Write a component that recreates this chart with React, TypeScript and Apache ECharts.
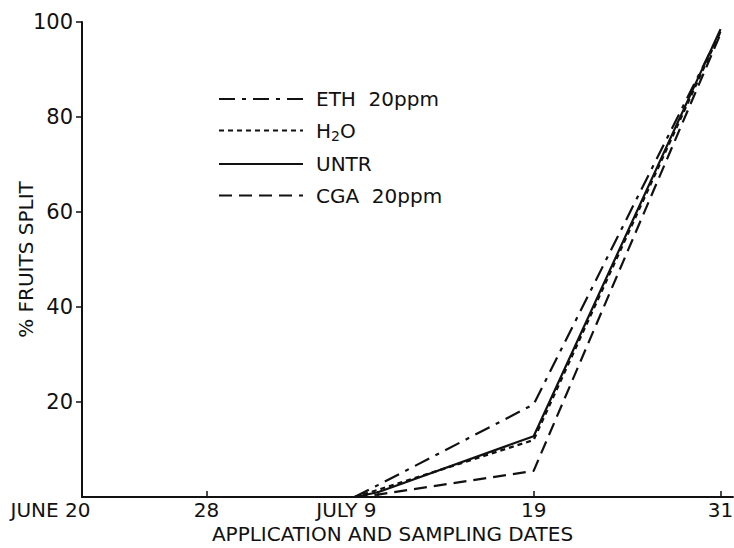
import React, { useEffect, useRef } from "react";
import * as echarts from "echarts";

// Days counted from June 20
const tickDays = [0, 8, 19, 29, 41];
const tickMonths = ["JUNE", "", "JULY", "", ""];
const tickDayLabels = ["20", "28", "9", "19", "31"];
const yTicks = [20, 40, 60, 80, 100];

const sampleDays = [17.5, 19, 29, 41];
const ethValues = [0, 2.5, 19.5, 98];
const h2oValues = [0, 1.5, 12, 98];
const untrValues = [0, 1, 12.8, 98.5];
const cgaValues = [0, 0.5, 5.5, 97.5];

const seriesNames = ["ETH  20ppm", "H2O", "UNTR", "CGA  20ppm"];

const FONT = "DejaVu Sans";

export default function App() {
  const ref = useRef<HTMLDivElement>(null);
  useEffect(() => {
    if (!ref.current) return;
    const chart = echarts.init(ref.current, undefined, { renderer: "svg" });
    const pair = (vals: number[]) => sampleDays.map((d, i) => [d, vals[i]]);
    const mk = (name: string, vals: number[], type: any) => ({
      name,
      type: "line",
      data: pair(vals),
      symbol: "none",
      lineStyle: { color: "#111", width: 2.2, type },
      itemStyle: { color: "#111" },
    });
    chart.setOption({
      animation: false,
      backgroundColor: "#fff",
      textStyle: { fontFamily: FONT, color: "#111" },
      grid: { left: 82, right: 1, top: 22, bottom: 51, outerBoundsMode: "none", containLabel: false },
      legend: {
        orient: "vertical",
        left: 213,
        top: 84,
        itemWidth: 84,
        itemHeight: 14,
        itemGap: 11.5,
        data: seriesNames,
        itemStyle: { opacity: 0 },
        textStyle: {
          fontFamily: FONT,
          fontSize: 20,
          color: "#111",
          padding: [0, 0, 0, 8],
          rich: {
            sub: { fontSize: 14, fontFamily: FONT, color: "#111", padding: [10, 0, 0, 0] },
            n: { fontSize: 20, fontFamily: FONT, color: "#111" },
          },
        },
        formatter: (name: string) =>
          name === "H2O" ? "{n|H}{sub|2}{n|O}" : name,
      },
      xAxis: {
        type: "value",
        min: 0,
        max: 41.8,
        name: "APPLICATION AND SAMPLING DATES",
        nameLocation: "middle",
        nameGap: 27,
        nameMoveOverlap: false,
        nameTextStyle: { fontFamily: FONT, fontSize: 20, color: "#111", padding: [0, 30, 0, 0] },
        splitLine: { show: false },
        axisLine: { lineStyle: { color: "#111", width: 2 } },
        axisTick: {
          inside: true,
          length: 6,
          customValues: tickDays.slice(1),
          lineStyle: { color: "#111", width: 1.5 },
        },
        axisLabel: {
          customValues: tickDays,
          margin: 3,
          fontFamily: FONT,
          fontSize: 20,
          color: "#111",
          formatter: (v: number) => {
            const i = tickDays.indexOf(v);
            if (i < 0) return "";
            if (tickMonths[i]) {
              return `{m|${tickMonths[i]} }{d|${tickDayLabels[i]}}{s|}`;
            }
            return tickDayLabels[i];
          },
          rich: {
            m: { fontFamily: FONT, fontSize: 20, color: "#111" },
            d: { fontFamily: FONT, fontSize: 20, color: "#111" },
            s: { width: 63 },
          },
        },
      },
      yAxis: {
        type: "value",
        min: 0,
        max: 100,
        interval: 20,
        name: "% FRUITS SPLIT",
        nameLocation: "middle",
        nameGap: 46,
        nameMoveOverlap: false,
        nameTextStyle: { fontFamily: FONT, fontSize: 20, color: "#111" },
        splitLine: { show: false },
        axisLine: { show: true, lineStyle: { color: "#111", width: 2 } },
        axisTick: {
          show: true,
          length: 6,
          customValues: yTicks,
          lineStyle: { color: "#111", width: 1.5 },
        },
        axisLabel: {
          customValues: yTicks,
          margin: 9,
          fontFamily: FONT,
          fontSize: 21,
          color: "#111",
        },
      },
      series: [
        mk(seriesNames[0], ethValues, [16, 7, 4, 7]),
        mk(seriesNames[1], h2oValues, [5, 4]),
        mk(seriesNames[2], untrValues, "solid"),
        mk(seriesNames[3], cgaValues, [13, 7]),
      ],
    });
    return () => chart.dispose();
  }, []);
  return (
    <div
      ref={ref}
      style={{ position: "absolute", left: 0, top: 0, width: 734, height: 548 }}
    />
  );
}
